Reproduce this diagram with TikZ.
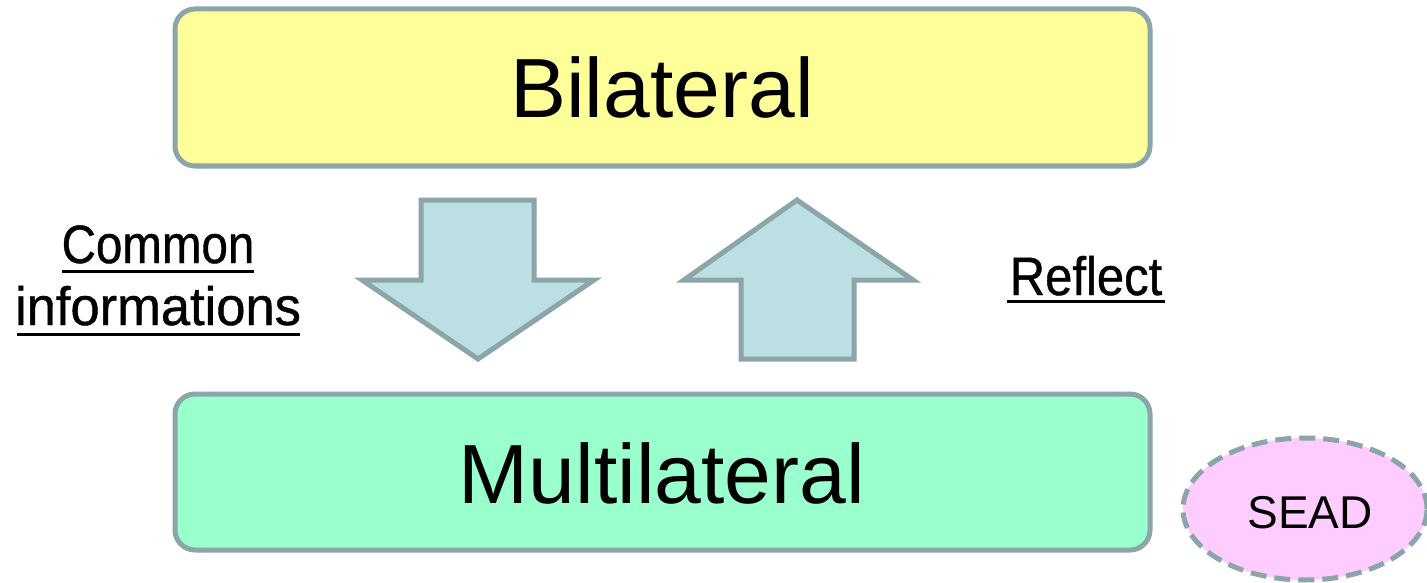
\documentclass[tikz,border=0pt]{standalone}
\usepackage{fontspec}
\setmainfont{Liberation Sans}
\newfontfamily\labelfont[FakeBold=0.8]{Liberation Sans}
\usetikzlibrary{shapes.geometric}
\definecolor{edgegrey}{HTML}{8BA5A8}
\definecolor{boxyellow}{HTML}{FFFF99}
\definecolor{boxgreen}{HTML}{99FFCC}
\definecolor{arrowfill}{HTML}{BBDFE2}
\definecolor{seadpink}{HTML}{FFCCFF}
\tikzset{
  bigbox/.style={draw=edgegrey, line width=5pt, rounded corners=20pt},
  bigtext/.style={font=\fontsize{84}{90}\selectfont, anchor=base, inner sep=0pt},
  blockarrow/.style={draw=edgegrey, fill=arrowfill, line width=5pt, line join=miter},
  labeltext/.style={font=\labelfont\fontsize{50}{56}\selectfont, anchor=base, inner sep=0pt},
  uline/.style={line width=3pt, black},
}
\begin{document}
\begin{tikzpicture}[x=1pt,y=-1pt]
\useasboundingbox (0,0) rectangle (1427,583);
% boxes
\draw[bigbox, fill=boxyellow] (175,9) rectangle (1150,166);
\node[bigtext] (bil) at (662,118) {Bilateral};
\draw[bigbox, fill=boxgreen] (175,394) rectangle (1150,550);
\node[bigtext] (mul) at (662,503) {Multilateral};
% arrows
\draw[blockarrow] (421,200) -- (534,200) -- (534,280) -- (594,280) -- (478,359) -- (362,280) -- (421,280) -- cycle;
\draw[blockarrow] (797,200) -- (913,280) -- (854,280) -- (854,359) -- (741,359) -- (741,280) -- (684,280) -- cycle;
% labels
\node[labeltext] (common) at (158,263) {\scalebox{0.95}[1.08]{Common}};
\coordinate (c1a) at (62,271); \coordinate (c1b) at (254,271);
\draw[uline] (c1a) -- (c1b);
\node[labeltext] (info) at (158,325) {\scalebox{1.05}[1.08]{informations}};
\coordinate (c2a) at (17,334); \coordinate (c2b) at (300,334);
\draw[uline] (c2a) -- (c2b);
\node[labeltext] (refl) at (1086,295) {\scalebox{0.98}[1.08]{Reflect}};
\coordinate (r1a) at (1007,301); \coordinate (r1b) at (1165,301);
\draw[uline] (r1a) -- (r1b);
% SEAD
\node[ellipse, draw=edgegrey, fill=seadpink, line width=5pt, dash pattern=on 16pt off 8pt,
      minimum width=244pt, minimum height=142pt, inner sep=0pt] (sead) at (1305,509) {};
\node[font=\fontsize{46}{50}\selectfont, anchor=base, inner sep=0pt] (seadt) at (1310,528) {SEAD};
\end{tikzpicture}
\end{document}
